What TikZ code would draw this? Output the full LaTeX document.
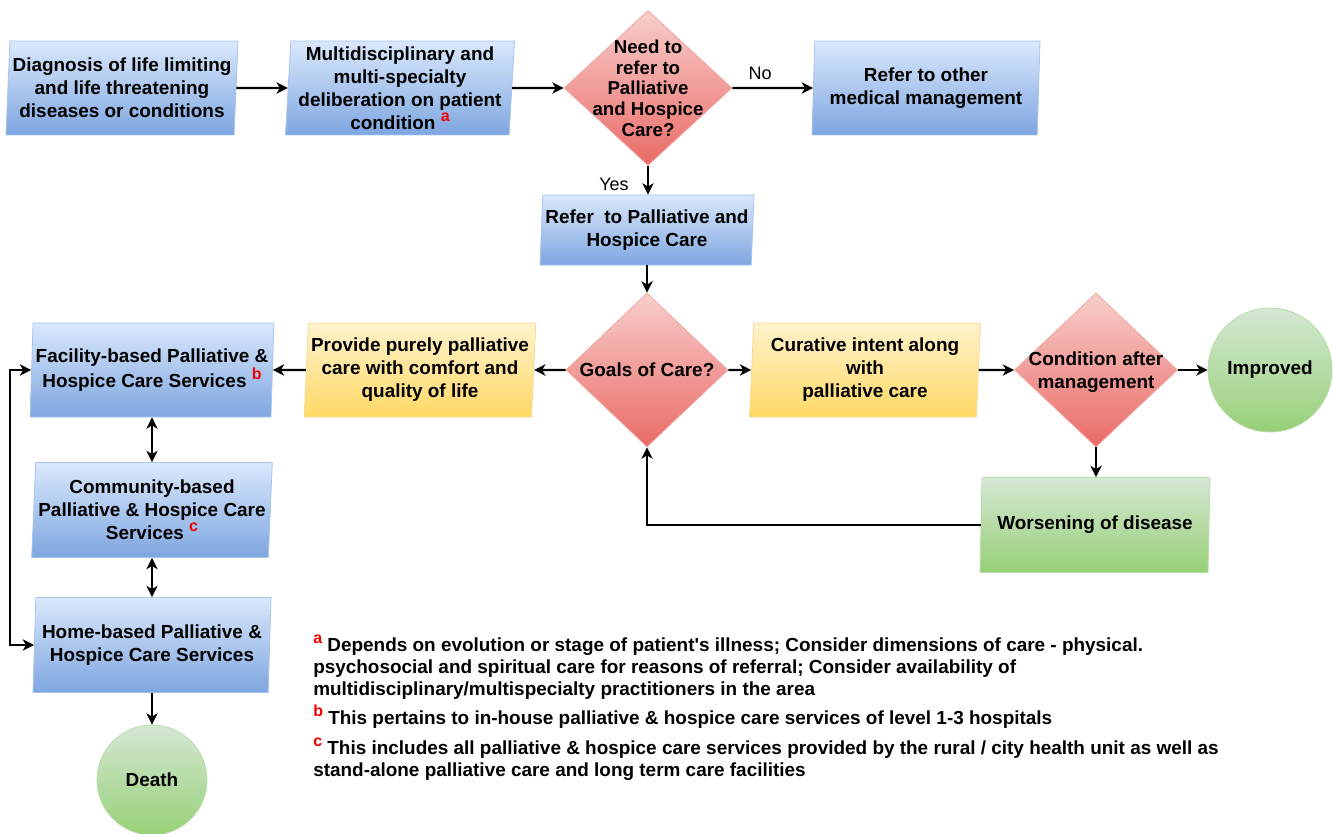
\documentclass[tikz,border=0pt]{standalone}
\usepackage{fontspec}
\setmainfont{Liberation Sans}
\usetikzlibrary{shapes.geometric,arrows.meta}

\definecolor{blueTop}{HTML}{DAE8FC}
\definecolor{blueBot}{HTML}{7EA6E0}
\definecolor{blueLine}{HTML}{A9C4EB}
\definecolor{redTop}{HTML}{F8CECC}
\definecolor{redBot}{HTML}{EA6B66}
\definecolor{redLine}{HTML}{F0A9A6}
\definecolor{yelTop}{HTML}{FFF2CC}
\definecolor{yelBot}{HTML}{FFD966}
\definecolor{yelLine}{HTML}{F2DC9A}
\definecolor{grnTop}{HTML}{D5E8D4}
\definecolor{grnBot}{HTML}{97D077}
\definecolor{grnLine}{HTML}{B9DCAA}
\definecolor{markRed}{HTML}{F00000}

\newcommand\boxfont{\fontsize{14.2}{17.25}\selectfont\bfseries}
\newcommand\needfont{\fontsize{14}{15.5}\selectfont\bfseries}
\newcommand\notefont{\fontsize{14.2}{16.5}\selectfont\bfseries}
\newcommand\mk[1]{\raisebox{0.42em}{\textcolor{markRed}{\fontsize{12}{12}\selectfont\bfseries #1}}}

\tikzset{
  pbox/.style={trapezium, trapezium left angle=86.5, trapezium right angle=93.5,
    trapezium stretches body=true, inner sep=2pt, align=center, font=\boxfont,
    line width=0.6pt, minimum height=94*0.75pt},
  bluebox/.style={pbox, top color=blueTop, bottom color=blueBot, draw=blueLine},
  yelbox/.style={pbox, top color=yelTop, bottom color=yelBot, draw=yelLine},
  grnbox/.style={pbox, top color=grnTop, bottom color=grnBot, draw=grnLine},
  decide/.style={diamond, inner sep=0pt, top color=redTop, bottom color=redBot,
    draw=redLine, line width=0.6pt},
  dtext/.style={align=center, font=\boxfont, inner sep=0pt},
  term/.style={circle, inner sep=0pt, top color=grnTop, bottom color=grnBot,
    draw=grnLine, line width=0.6pt, font=\boxfont},
  arr/.style={line width=1.8pt, -{Stealth[length=8.5pt,width=8.5pt,inset=2.5pt]}},
  dblarr/.style={line width=1.8pt,
    {Stealth[length=8.5pt,width=8.5pt,inset=2.5pt]}-{Stealth[length=8.5pt,width=8.5pt,inset=2.5pt]}},
  edgelbl/.style={font=\fontsize{13.5}{15}\selectfont, inner sep=0pt},
  note/.style={align=left, font=\notefont, inner sep=0pt, anchor=base west},
}

\begin{document}
\begin{tikzpicture}[x=0.75pt,y=-0.75pt]
\useasboundingbox (0,0) rectangle (1333,834);

% top row
\node[bluebox, minimum width=229*0.75pt] (diag) at (122,88)
  {Diagnosis of life limiting\\and life threatening\\diseases or conditions};
\node[bluebox, minimum width=229*0.75pt] (multi) at (400,88)
  {Multidisciplinary and\\multi-specialty\\deliberation on patient\\condition \mk{a}};
\node[decide, minimum width=168*0.75pt, minimum height=155*0.75pt] (need) at (648,88) {};
\node[dtext, font=\needfont] (needT) at (648,88)
  {Need to\\refer to\\Palliative\\and Hospice\\Care?};
\node[bluebox, minimum width=228*0.75pt] (other) at (926,88)
  {Refer to other\\medical management};

\node[bluebox, minimum width=206*0.75pt, minimum height=70*0.75pt] (refer) at (647,230)
  {Refer\ \ to Palliative and\\Hospice Care};

% middle row
\node[decide, minimum width=162*0.75pt, minimum height=154*0.75pt] (goals) at (647,370) {};
\node[dtext] (goalsT) at (647,370) {Goals of Care?};
\node[yelbox, minimum width=229*0.75pt] (pure) at (420,370)
  {Provide purely palliative\\care with comfort and\\quality of life};
\node[bluebox, minimum width=243*0.75pt] (facility) at (152,370)
  {Facility-based Palliative \&\\Hospice Care Services \mk{b}};
\node[yelbox, minimum width=231*0.75pt] (curative) at (865,370)
  {Curative intent along\\with\\palliative care};
\node[decide, minimum width=163*0.75pt, minimum height=154*0.75pt] (cond) at (1096,370) {};
\node[dtext] (condT) at (1096,372) {Condition after\\management};
\node[term, minimum size=124*0.75pt] (improved) at (1270,370) {Improved};

\node[grnbox, trapezium left angle=85, trapezium right angle=95,
  minimum width=230*0.75pt, minimum height=95*0.75pt] (worse) at (1095,525)
  {Worsening of disease};

% left column
\node[bluebox, minimum width=237*0.75pt, minimum height=95*0.75pt] (community) at (152,510)
  {Community-based\\Palliative \& Hospice Care\\Services \mk{c}};
\node[bluebox, minimum width=238*0.75pt, minimum height=95*0.75pt] (home) at (152,645)
  {Home-based Palliative \&\\Hospice Care Services};
\node[term, minimum size=110*0.75pt] (death) at (152,780) {Death};

\coordinate (loopx) at (10,0);

% connectors
\draw[arr] (diag.east) -- (multi.west);
\draw[arr] (multi.east) -- (need.west);
\draw[arr] (need.east) -- (other.west);
\node[edgelbl] (noL) at (760,73) {No};
\draw[arr] (need.south) -- (need.south |- refer.north);
\node[edgelbl] (yesL) at (614,184) {Yes};
\draw[arr] (refer.south) -- (refer.south |- goals.north);
\draw[arr] (goals.west) -- (pure.east);
\draw[arr] (pure.west) -- (facility.east);
\draw[arr] (goals.east) -- (curative.west);
\draw[arr] (curative.east) -- (cond.west);
\draw[arr] (cond.east) -- (improved.west);
\draw[arr] (cond.south) -- (cond.south |- worse.north);
\draw[arr] (worse.west) -| (goals.south);
\draw[dblarr] (facility.south -| 152,0) -- (community.north -| 152,0);
\draw[dblarr] (community.south -| 152,0) -- (home.north -| 152,0);
\draw[arr] (home.south -| 152,0) -- (death.north);
\draw[dblarr] (facility.west) -- (facility.west -| loopx) |- (home.west);

% notes (anchored at the baseline of their last line)
\node[note] (noteA) at (313,695)
  {\mk{a} Depends on evolution or stage of patient\textquotesingle s illness; Consider dimensions of care - physical.\\
   psychosocial and spiritual care for reasons of referral; Consider availability of\\
   multidisciplinary/multispecialty practitioners in the area};
\node[note] (noteB) at (313,724)
  {\mk{b} This pertains to in-house palliative \& hospice care services of level 1-3 hospitals};
\node[note] (noteC) at (313,776)
  {\mk{c} This includes all palliative \& hospice care services provided by the rural / city health unit as well as\\
   stand-alone palliative care and long term care facilities};
\end{tikzpicture}
\end{document}
